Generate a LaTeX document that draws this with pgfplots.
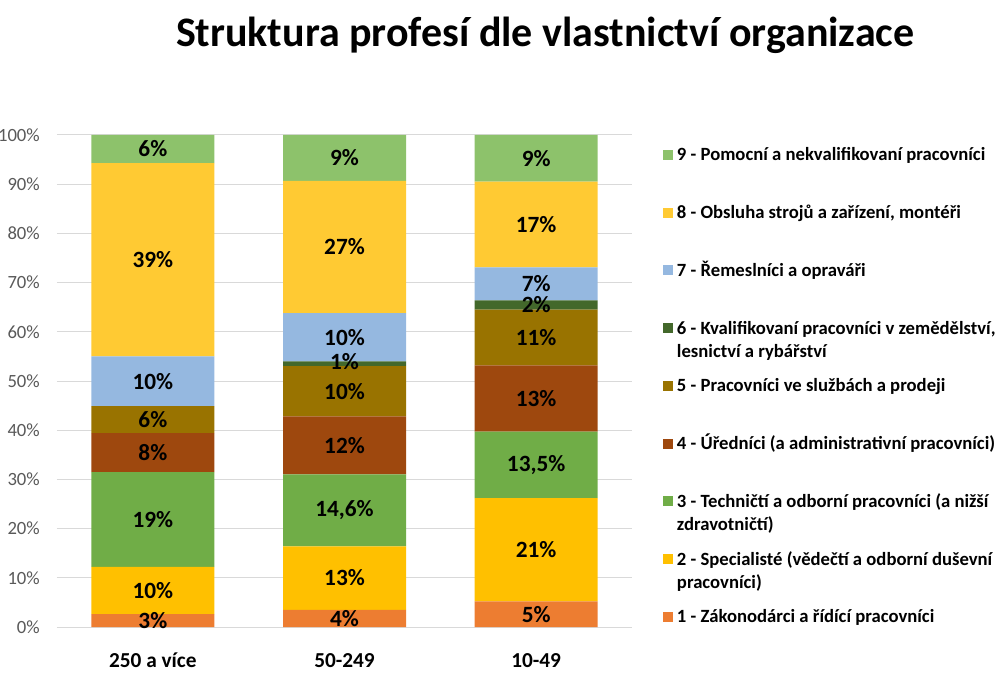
\documentclass[border=0pt]{standalone}
\usepackage{fontspec}
\setmainfont{Carlito}
\usepackage{pgfplots}
\pgfplotsset{compat=1.18}
\definecolor{c1}{HTML}{ED7D31}
\definecolor{c2}{HTML}{FFC000}
\definecolor{c3}{HTML}{70AD47}
\definecolor{c4}{HTML}{9E480E}
\definecolor{c5}{HTML}{997300}
\definecolor{c6}{HTML}{43682B}
\definecolor{c7}{HTML}{95B8E0}
\definecolor{c8}{HTML}{FFCA33}
\definecolor{c9}{HTML}{8DC26B}
\definecolor{gridc}{HTML}{D9D9D9}
\definecolor{tickc}{HTML}{595959}
\newcommand\twoline[2]{\vtop{\hbox{#1}\hbox{#2}}}
\begin{document}
\begin{tikzpicture}
\useasboundingbox (-57pt,-48pt) rectangle (951pt,627pt);
\begin{axis}[
  scale only axis, width=575pt, height=492pt,
  ybar stacked, bar width=123pt,
  xmin=-0.5, xmax=2.5, ymin=0, ymax=100,
  xtick={0,1,2},
  xticklabels={250 a více,50-249,10-49},
  ytick={0,10,...,100},
  yticklabel={\pgfmathprintnumber{\tick}\%},
  /pgf/number format/assume math mode=true,
  major tick length=0pt,
  axis line style={draw=none},
  ymajorgrids, grid style={gridc, line width=1pt},
  xticklabel style={font=\bfseries\fontsize{21.3pt}{25pt}\selectfont, anchor=base, yshift=-40pt},
  yticklabel style={font=\fontsize{18.67pt}{22pt}\selectfont, text=tickc, anchor=east, inner sep=0pt, xshift=-17pt},
  title={Struktura profesí dle vlastnictví organizace},
  title style={font=\bfseries\fontsize{42pt}{48pt}\selectfont, at={(axis description cs:0.849,1.168)}, anchor=base, inner sep=0pt},
  reverse legend,
  legend cell align=left,
  legend style={at={(axis description cs:1.0539,0.9736)}, anchor=north west, draw=none, fill=none, inner sep=0pt, outer sep=0pt, row sep=0pt, column sep=4pt,
    font=\bfseries\fontsize{18.67pt}{23.5pt}\selectfont,
    nodes={anchor=base west, inner sep=0pt, text height=13pt, text depth=44.75pt}},
  legend image code/.code={\fill[#1] (0pt,1pt) rectangle (10pt,11pt);},
]
\addplot[fill=c1, draw=none] coordinates {(0,2.6) (1,3.5) (2,5.2)};
\addlegendentry{1 - Zákonodárci a řídící pracovníci}
\addplot[fill=c2, draw=none] coordinates {(0,9.6) (1,12.9) (2,21.0)};
\addlegendentry{\twoline{2 - Specialisté (vědečtí a odborní duševní}{pracovníci)}}
\addplot[fill=c3, draw=none] coordinates {(0,19.3) (1,14.6) (2,13.5)};
\addlegendentry{\twoline{3 - Techničtí a odborní pracovníci (a nižší}{zdravotničtí)}}
\addplot[fill=c4, draw=none] coordinates {(0,7.9) (1,11.8) (2,13.5)};
\addlegendentry{4 - Úředníci (a administrativní pracovníci)}
\addplot[fill=c5, draw=none] coordinates {(0,5.5) (1,10.2) (2,11.3)};
\addlegendentry{5 - Pracovníci ve službách a prodeji}
\addplot[fill=c6, draw=none] coordinates {(0,0) (1,1.0) (2,1.9)};
\addlegendentry{\twoline{6 - Kvalifikovaní pracovníci v zemědělství,}{lesnictví a rybářství}}
\addplot[fill=c7, draw=none] coordinates {(0,10.1) (1,9.8) (2,6.7)};
\addlegendentry{7 - Řemeslníci a opraváři}
\addplot[fill=c8, draw=none] coordinates {(0,39.3) (1,26.9) (2,17.4)};
\addlegendentry{8 - Obsluha strojů a zařízení, montéři}
\addplot[fill=c9, draw=none] coordinates {(0,5.7) (1,9.3) (2,9.5)};
\addlegendentry{9 - Pomocní a nekvalifikovaní pracovníci}
\end{axis}
\begin{axis}[
  scale only axis, width=575pt, height=492pt,
  xmin=-0.5, xmax=2.5, ymin=0, ymax=100,
  hide axis, clip=false,
  nodes near coords={\pgfplotspointmeta\%},
  point meta=explicit symbolic,
  every node near coord/.append style={font=\bfseries\fontsize{23.3pt}{27pt}\selectfont, anchor=center, inner sep=0pt, text=black},
]
\addplot[only marks, mark=none] coordinates {
  (0,1.3)[3] (0,7.4)[10] (0,21.85)[19] (0,35.45)[8] (0,42.15)[6] (0,49.95)[10] (0,74.65)[39] (0,97.15)[6]
  (1,1.75)[4] (1,9.95)[13] (1,23.7)[14,6] (1,36.9)[12] (1,47.9)[10] (1,53.9)[1] (1,58.9)[10] (1,77.25)[27] (1,95.35)[9]
  (2,2.6)[5] (2,15.7)[21] (2,32.95)[13,5] (2,46.45)[13] (2,58.85)[11] (2,65.45)[2] (2,69.75)[7] (2,81.8)[17] (2,95.25)[9]
};
\end{axis}
\end{tikzpicture}
\end{document}
